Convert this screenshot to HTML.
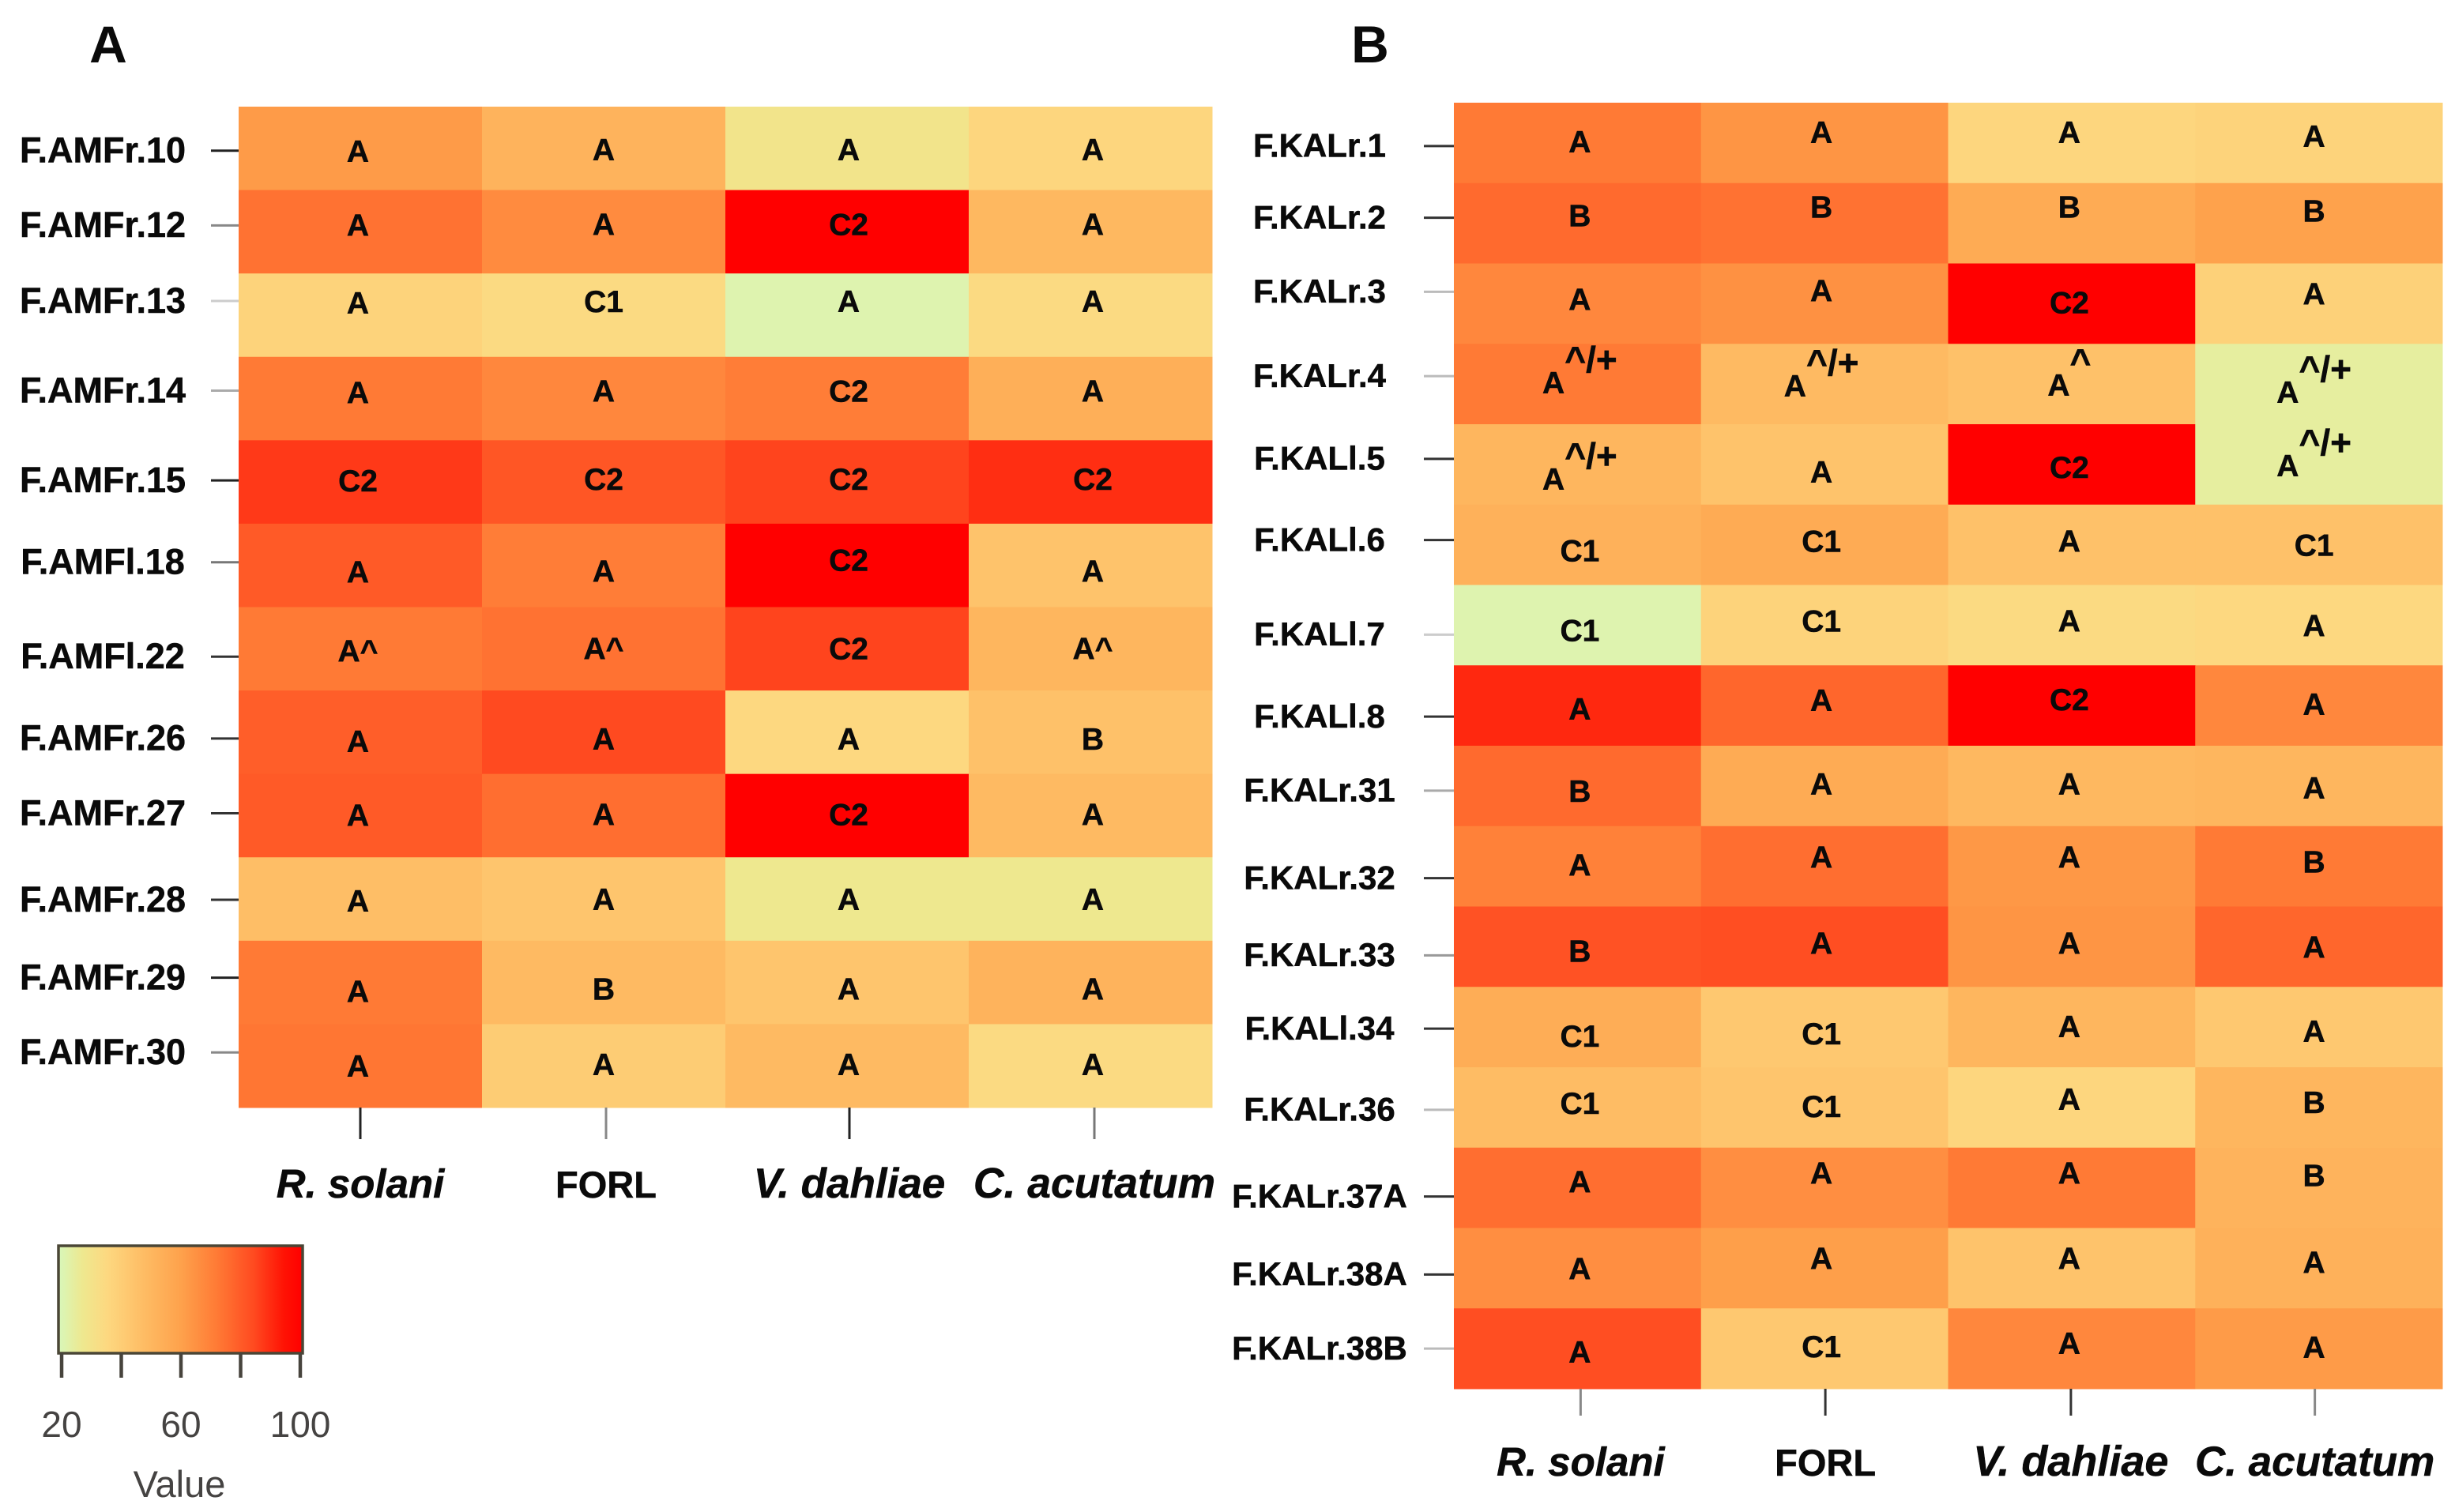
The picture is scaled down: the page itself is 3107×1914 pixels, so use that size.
<!DOCTYPE html>
<html lang="en">
<head>
<meta charset="utf-8">
<title>Heatmaps of isolate activity against four pathogens</title>
<style>
  html, body { margin: 0; padding: 0; background: #fff; }
  svg { display: block; }
  text { font-family: "Liberation Sans", sans-serif; fill: #0a0a0a; }
  text.heavy { stroke: #0a0a0a; stroke-width: 0.5px; }
</style>
</head>
<body>
<svg id="figure" xmlns="http://www.w3.org/2000/svg" width="3107" height="1914" viewBox="0 0 3107 1914">
  <rect x="0" y="0" width="3107" height="1914" fill="#ffffff"></rect>
  <text x="137" y="79" font-size="66" font-weight="700" text-anchor="middle">A</text>
  <text x="1734" y="79" font-size="66" font-weight="700" text-anchor="middle">B</text>
  <g id="panel-a"></g>
  <g id="panel-b"></g>
  <g id="legend"></g>
</svg>
<script>
/* ---------- Data: categories ---------- */
const pathogens = ['R. solani', 'FORL', 'V. dahliae', 'C. acutatum'];
const isolatesA = ['F.AMFr.10','F.AMFr.12','F.AMFr.13','F.AMFr.14','F.AMFr.15','F.AMFl.18','F.AMFl.22','F.AMFr.26','F.AMFr.27','F.AMFr.28','F.AMFr.29','F.AMFr.30'];
const isolatesB = ['F.KALr.1','F.KALr.2','F.KALr.3','F.KALr.4','F.KALl.5','F.KALl.6','F.KALl.7','F.KALl.8','F.KALr.31','F.KALr.32','F.KALr.33','F.KALl.34','F.KALr.36','F.KALr.37A','F.KALr.38A','F.KALr.38B'];

/* ---------- Data: panel A values, one array per pathogen ---------- */
const solaniA   = [62, 74, 38, 72, 87, 80, 72, 79, 80, 47, 72, 73];
const forlA     = [52, 67, 35, 68, 81, 71, 74, 84, 75, 44, 49, 41];
const dahliaeA  = [30, 100, 22, 71, 85, 100, 85, 36, 100, 28, 44, 49];
const acutatumA = [37, 50, 35, 54, 89, 45, 51, 46, 49, 28, 52, 35];

/* ---------- Data: panel B values, one array per pathogen ---------- */
const solaniB   = [72, 76, 68, 72, 51, 53, 22, 90, 76, 70, 82, 55, 48, 75, 66, 83];
const forlB     = [64, 74, 65, 49, 45, 56, 38, 77, 56, 75, 83, 43, 44, 66, 61, 43];
const dahliaeB  = [37, 56, 100, 46, 100, 46, 35, 100, 50, 63, 64, 51, 37, 72, 45, 68];
const acutatumB = [38, 60, 39, 25, 25, 46, 36, 68, 51, 72, 77, 43, 51, 52, 53, 62];

/* ---------- Data: printed classes, one array per pathogen ---------- */
const classSolaniA   = ['A','A','A','A','C2','A','A^','A','A','A','A','A'];
const classForlA     = ['A','A','C1','A','C2','A','A^','A','A','A','B','A'];
const classDahliaeA  = ['A','C2','A','C2','C2','C2','C2','A','C2','A','A','A'];
const classAcutatumA = ['A','A','A','A','C2','A','A^','B','A','A','A','A'];

const classSolaniB   = ['A','B','A','A^/+','A^/+','C1','C1','A','B','A','B','C1','C1','A','A','A'];
const classForlB     = ['A','B','A','A^/+','A','C1','C1','A','A','A','A','C1','C1','A','A','C1'];
const classDahliaeB  = ['A','B','C2','A^','C2','A','A','C2','A','A','A','A','A','A','A','A'];
const classAcutatumB = ['A','B','A','A^/+','A^/+','C1','A','A','A','B','A','A','B','B','A','A'];

/* ---------- Data: colour key ---------- */
const keyTicks = [20, 40, 60, 80, 100];
const keyTickLabels = [20, 60, 100];
const keyTitle = 'Value';
const colorStopValues = [20, 28, 36, 48, 60, 72, 84, 94, 100];
const colorStopHexes = ['#d8f7ba', '#eee88f', '#fdd880', '#febc64', '#fea24c', '#ff7a35', '#ff4a20', '#ff1204', '#ff0000'];

/* ---------- Layout (not data): the figure's hand-placed annotation offsets ---------- */
const layoutA = {
  left: 302, right: 1534, top: 135, bottom: 1402,
  tickLeft: 267, rowLabelX: 130, rowFont: 45, axisTickEnd: 1442, colLabelY: 1516,
  colFont: [51, 47, 53, 53.5],
  colTickShift: [0, 3, 3, 5], cellTextShift: [-3, 0, 2, 3],
  rowTickShift: [3, -8, -18, -10, -2, -4, 10, 8, -3, 1, -6, -17],
  rowTickColor: ['#222','#888','#ccc','#aaa','#222','#777','#333','#333','#333','#333','#222','#888'],
  colTickColor: ['#222','#888','#222','#777'],
  cellTextNudge: [
    [3,1,1,1],[-9,-10,-10,-10],[-16,-18,-18,-18],[-8,-10,-10,-10],[-2,-4,-4,-4],[8,7,-7,7],
    [2,-1,-1,-1],[11,8,8,8],[-1,-2,-2,-2],[2,0,0,0],[11,8,8,8],[0,-2,-2,-2]
  ]
};
const layoutB = {
  left: 1840, right: 3091, top: 130, bottom: 1758,
  tickLeft: 1802, rowLabelX: 1670, rowFont: 42, axisTickEnd: 1792, colLabelY: 1868,
  colFont: [51, 47, 54, 53],
  colTickShift: [4, 1, -1, -5], cellTextShift: [3, -4, -3, -6],
  rowTickShift: [4, -7, -15, -10, -7, -6, 12, 14, 6, 15, 11, 2, 3, 11, 8, 0],
  rowTickColor: ['#333','#333','#bbb','#bbb','#333','#333','#ccc','#333','#aaa','#333','#999','#333','#bbb','#333','#333','#bbb'],
  colTickColor: ['#888','#333','#333','#888'],
  cellTextNudge: [
    [-2,-14,-14,-9],[-10,-21,-21,-16],[-6,-17,-2,-13],[-2,2,1,10],[18,9,3,1],[7,-5,-5,0],
    [6,-6,-6,0],[4,-7,-8,-2],[6,-3,-3,2],[-2,-12,-12,-6],[5,-5,-5,0],[11,8,-1,5],
    [-6,-2,-11,-7],[-8,-19,-19,-16],[0,-13,-13,-8],[4,-3,-7,-2]
  ]
};
const layoutKey = { left: 74, right: 383, top: 1577, bottom: 1713, tickEnd: 1744, v0x: 78, v1x: 380 };

/* ---------- Helpers ---------- */
const NS = 'http://www.w3.org/2000/svg';
function make(tag, parent, attrs) {
  const node = document.createElementNS(NS, tag);
  for (const k in attrs) node.setAttribute(k, attrs[k]);
  parent.appendChild(node);
  return node;
}
function hexToRgb(h) {
  return [parseInt(h.slice(1, 3), 16), parseInt(h.slice(3, 5), 16), parseInt(h.slice(5, 7), 16)];
}
function colorFor(v) {
  const n = colorStopValues.length;
  if (v <= colorStopValues[0]) return colorStopHexes[0];
  if (v >= colorStopValues[n - 1]) return colorStopHexes[n - 1];
  let i = 0;
  while (v > colorStopValues[i + 1]) i++;
  const t = (v - colorStopValues[i]) / (colorStopValues[i + 1] - colorStopValues[i]);
  const a = hexToRgb(colorStopHexes[i]);
  const b = hexToRgb(colorStopHexes[i + 1]);
  const c = a.map((x, j) => Math.round(x + (b[j] - x) * t));
  return 'rgb(' + c.join(',') + ')';
}
function bandScale(start, end, count) {
  const step = (end - start) / count;
  return { step: step, at: i => start + i * step, mid: i => start + (i + 0.5) * step };
}

/* ---------- Heatmap panel ---------- */
function drawPanel(group, panelKey, isolates, valueCols, classCols, L, superscript) {
  const xs = bandScale(L.left, L.right, pathogens.length);
  const ys = bandScale(L.top, L.bottom, isolates.length);

  // cells first, then text on top
  isolates.forEach((iso, r) => {
    valueCols.forEach((col, c) => {
      const cell = make('rect', group, {
        x: xs.at(c), y: ys.at(r), width: xs.step + 0.5, height: ys.step + 0.5, fill: colorFor(col[r])
      });
      
      
    });
  });

  isolates.forEach((iso, r) => {
    const rowY = ys.mid(r) + L.rowTickShift[r];

    const tick = make('line', group, {
      x1: L.tickLeft, x2: L.left, y1: rowY, y2: rowY, stroke: L.rowTickColor[r], 'stroke-width': 3
    });
    
    

    const rowLabel = make('text', group, {
      class: 'heavy', x: L.rowLabelX, y: rowY + L.rowFont * 0.33, 'font-size': L.rowFont, 'font-weight': 700, 'text-anchor': 'middle'
    });
    rowLabel.textContent = iso;
    
    

    classCols.forEach((col, c) => {
      const raw = col[r];
      const txt = make('text', group, {
        class: 'heavy', x: xs.mid(c) + L.cellTextShift[c], y: ys.mid(r) + L.cellTextNudge[r][c] + 14,
        'font-size': 39, 'font-weight': 700, 'text-anchor': 'middle'
      });
      
      
      if (superscript && raw.length > 1 && raw.charAt(1) === '^') {
        const base = make('tspan', txt, {});
        base.textContent = raw.charAt(0);
        const sup = make('tspan', txt, { dy: -27, 'font-size': 46 });
        sup.textContent = raw.slice(1);
      } else {
        txt.textContent = raw;
      }
    });
  });

  pathogens.forEach((name, c) => {
    const tx = xs.mid(c) + L.colTickShift[c];
    const tick = make('line', group, {
      x1: tx, x2: tx, y1: L.bottom, y2: L.axisTickEnd, stroke: L.colTickColor[c], 'stroke-width': 3
    });
    
    

    const isForl = name === 'FORL';
    const label = make('text', group, {
      class: 'heavy', x: tx, y: L.colLabelY, 'font-size': L.colFont[c], 'font-weight': 700,
      'font-style': isForl ? 'normal' : 'italic', 'text-anchor': 'middle'
    });
    label.textContent = name;
    
    
  });
}

/* ---------- Colour key ---------- */
function drawKey(group, K) {
  const keyX = v => K.v0x + (v - keyTicks[0]) * (K.v1x - K.v0x) / (keyTicks[keyTicks.length - 1] - keyTicks[0]);
  const defs = make('defs', group, {});
  const grad = make('linearGradient', defs, { id: 'key-gradient', x1: 0, x2: 1, y1: 0, y2: 0 });
  const vMin = colorStopValues[0];
  const vMax = colorStopValues[colorStopValues.length - 1];
  colorStopValues.forEach((v, i) => {
    make('stop', grad, { offset: (v - vMin) / (vMax - vMin), 'stop-color': colorStopHexes[i] });
  });

  const bar = make('rect', group, {
    x: K.left, y: K.top, width: K.right - K.left, height: K.bottom - K.top,
    fill: 'url(#key-gradient)', stroke: '#4a4636', 'stroke-width': 3.5
  });
  
  

  keyTicks.forEach(v => {
    const t = make('line', group, {
      x1: keyX(v), x2: keyX(v), y1: K.bottom, y2: K.tickEnd, stroke: '#47443d', 'stroke-width': 4.5
    });
    
    
  });

  keyTickLabels.forEach(v => {
    const t = make('text', group, {
      x: keyX(v), y: 1819, 'font-size': 46, 'text-anchor': 'middle', style: 'fill:#454342'
    });
    t.textContent = String(v);
    
    
  });

  const title = make('text', group, {
    x: 227, y: 1895, 'font-size': 47, 'text-anchor': 'middle', style: 'fill:#454342'
  });
  title.textContent = keyTitle;
  
  
}

drawPanel(document.getElementById('panel-a'), 'a', isolatesA,
  [solaniA, forlA, dahliaeA, acutatumA],
  [classSolaniA, classForlA, classDahliaeA, classAcutatumA], layoutA, false);
drawPanel(document.getElementById('panel-b'), 'b', isolatesB,
  [solaniB, forlB, dahliaeB, acutatumB],
  [classSolaniB, classForlB, classDahliaeB, classAcutatumB], layoutB, true);
drawKey(document.getElementById('legend'), layoutKey);
</script>
</body>
</html>
